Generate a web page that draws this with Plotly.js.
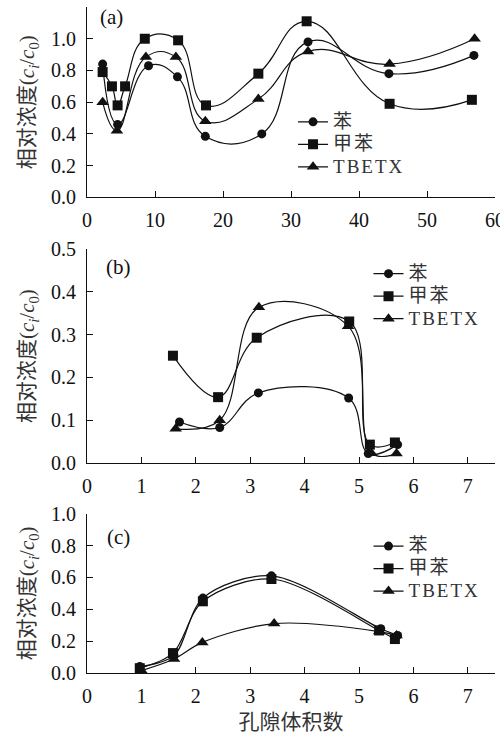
<!DOCTYPE html>
<html>
<head>
<meta charset="utf-8">
<script src="https://cdn.plot.ly/plotly-3.0.1.min.js"></script>
<style>
html,body{margin:0;padding:0;background:#fff;}
.legendtext, .infolayer g[class^="legend"] text, .infolayer text[class*="legendtext"] {letter-spacing:2px; font-size:19px !important;}
</style>
</head>
<body>
<div id="chart" style="width:500px;height:736px;"></div>
<script>
// Series names
const names = ['苯', '甲苯', 'TBETX'];

// Panel (a)
const a_x_ben = [2.3, 4.5, 9.05, 13.3, 17.4, 25.7, 32.5, 44.4, 56.9];
const a_y_ben = [0.84, 0.46, 0.83, 0.76, 0.385, 0.40, 0.98, 0.78, 0.895];
const a_x_jb  = [2.3, 3.67, 4.5, 5.6, 8.5, 13.4, 17.5, 25.2, 32.3, 44.5, 56.6];
const a_y_jb  = [0.79, 0.70, 0.58, 0.70, 1.00, 0.99, 0.58, 0.78, 1.11, 0.59, 0.615];
const a_x_tb  = [2.3, 4.4, 8.66, 13.07, 17.4, 25.2, 32.5, 44.5, 57.0];
const a_y_tb  = [0.60, 0.42, 0.885, 0.885, 0.48, 0.62, 0.92, 0.84, 1.00];

// Panel (b)
const b_x_ben = [1.70, 2.44, 3.15, 4.81, 5.17, 5.71];
const b_y_ben = [0.096, 0.083, 0.164, 0.152, 0.022, 0.043];
const b_x_jb  = [1.58, 2.41, 3.12, 4.82, 5.20, 5.66];
const b_y_jb  = [0.251, 0.154, 0.293, 0.331, 0.043, 0.048];
const b_x_tb  = [1.63, 2.44, 3.16, 4.80, 5.23, 5.69];
const b_y_tb  = [0.080, 0.100, 0.364, 0.320, 0.023, 0.022];

// Panel (c)
const c_x_ben = [0.97, 1.60, 2.13, 3.39, 5.40, 5.71];
const c_y_ben = [0.04, 0.11, 0.47, 0.61, 0.278, 0.236];
const c_x_jb  = [0.97, 1.58, 2.13, 3.39, 5.37, 5.66];
const c_y_jb  = [0.03, 0.125, 0.45, 0.59, 0.267, 0.213];
const c_x_tb  = [1.0, 1.60, 2.12, 3.44, 5.37, 5.69];
const c_y_tb  = [0.015, 0.088, 0.192, 0.31, 0.26, 0.236];

const FONT = 'Liberation Serif, Noto Sans CJK SC, serif';
const INK = '#111';
const symbols = ['circle', 'square', 'triangle-up'];
const msizes = [9, 10, 11];

function mk(x, y, i, xa, ya, leg, sm) {
  return {
    x: x, y: y, xaxis: xa, yaxis: ya, name: names[i], legend: leg,
    type: 'scatter', mode: 'lines+markers', cliponaxis: false,
    line: {shape: 'spline', smoothing: sm, color: INK, width: 1.2},
    marker: {symbol: symbols[i], size: msizes[i], color: INK}
  };
}

const data = [
  mk(a_x_ben, a_y_ben, 0, 'x', 'y', 'legend', 1.3),
  mk(a_x_jb,  a_y_jb,  1, 'x', 'y', 'legend', 1.3),
  mk(a_x_tb,  a_y_tb,  2, 'x', 'y', 'legend', 1.3),
  mk(b_x_ben, b_y_ben, 0, 'x2', 'y2', 'legend2', 1.1),
  mk(b_x_jb,  b_y_jb,  1, 'x2', 'y2', 'legend2', 1.1),
  mk(b_x_tb,  b_y_tb,  2, 'x2', 'y2', 'legend2', 1.1),
  mk(c_x_ben, c_y_ben, 0, 'x3', 'y3', 'legend3', 0.9),
  mk(c_x_jb,  c_y_jb,  1, 'x3', 'y3', 'legend3', 0.9),
  mk(c_x_tb,  c_y_tb,  2, 'x3', 'y3', 'legend3', 0.9)
];

const ytitle = '相对浓度(<i>c</i><sub><i>i</i></sub>/<i>c</i><sub>0</sub>)';

function xax(anchor, range, dtick, title) {
  const o = {
    anchor: anchor, domain: [0, 1], range: range, dtick: dtick, tick0: 0,
    tickmode: 'linear', ticklabeloverflow: 'allow',
    showline: true, linecolor: INK, linewidth: 1, showgrid: false, zeroline: false,
    ticks: 'inside', ticklen: 6, tickcolor: INK, tickwidth: 1,
    tickfont: {family: FONT, size: 20, color: INK}, ticklabelstandoff: 5, fixedrange: true
  };
  if (title) o.title = {text: title, font: {family: FONT, size: 21, color: '#333'}, standoff: 8};
  return o;
}
function yax(anchor, domain, range, dtick) {
  return {
    anchor: anchor, domain: domain, range: range, dtick: dtick, tick0: 0,
    tickmode: 'linear', tickformat: '.1f',
    showline: true, linecolor: INK, linewidth: 1, showgrid: false, zeroline: false,
    ticks: 'inside', ticklen: 6, tickcolor: INK, tickwidth: 1,
    tickfont: {family: FONT, size: 20, color: INK}, ticklabelstandoff: 6, fixedrange: true,
    title: {text: ytitle, font: {family: FONT, size: 21, color: '#333'}, standoff: 10}
  };
}
function leg(x, y) {
  return {
    x: x, y: y, xanchor: 'left', yanchor: 'top', xref: 'paper', yref: 'paper',
    bgcolor: 'rgba(0,0,0,0)', borderwidth: 0, tracegroupgap: 0,
    font: {family: FONT, size: 15, color: '#333'}
  };
}

const layout = {
  width: 500, height: 736,
  font: {family: FONT, size: 20, color: INK},
  margin: {l: 87, r: 5, t: 7, b: 63},
  paper_bgcolor: '#fff', plot_bgcolor: '#fff',
  showlegend: true,
  xaxis: xax('y', [0, 60], 10),
  yaxis: yax('x', [0.7141, 1.0], [0, 1.2], 0.2),
  xaxis2: xax('y2', [0, 7.5], 1),
  yaxis2: yax('x2', [0.3153, 0.6363], [0, 0.5], 0.1),
  xaxis3: xax('y3', [0, 7.5], 1, '孔隙体积数'),
  yaxis3: yax('x3', [0, 0.2392], [0, 1.0], 0.2),
  legend: leg(0.505, 0.852),
  legend2: leg(0.69, 0.624),
  legend3: leg(0.69, 0.215),
  annotations: [
    {text: '(a)', xref: 'paper', yref: 'paper', x: 0.06, y: 0.985, xanchor: 'center', yanchor: 'middle', showarrow: false, font: {family: FONT, size: 21, color: INK}},
    {text: '(b)', xref: 'paper', yref: 'paper', x: 0.078, y: 0.61, xanchor: 'center', yanchor: 'middle', showarrow: false, font: {family: FONT, size: 21, color: INK}},
    {text: '(c)', xref: 'paper', yref: 'paper', x: 0.078, y: 0.204, xanchor: 'center', yanchor: 'middle', showarrow: false, font: {family: FONT, size: 21, color: INK}}
  ]
};

Plotly.newPlot('chart', data, layout, {displayModeBar: false, staticPlot: true});
</script>
</body>
</html>
